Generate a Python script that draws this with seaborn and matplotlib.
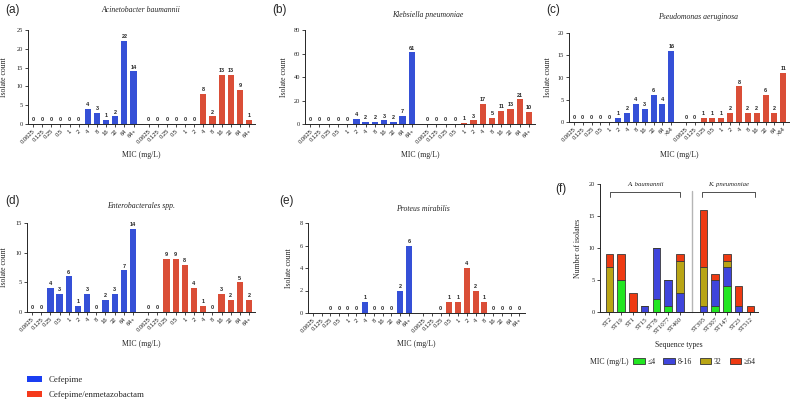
import numpy as np
import pandas as pd
import matplotlib
matplotlib.use("Agg")
import matplotlib.pyplot as plt
import seaborn as sns
from matplotlib.patches import Patch

# ---------------- data ----------------
mic_labels = ["0.0625", "0.125", "0.25", "0.5", "1", "2", "4", "8", "16", "32", "64", "64+"]
mic_labels_pa = ["0.0625", "0.125", "0.25", "0.5", "1", "2", "4", "8", "16", "32", "64", ">64"]

ab_cefepime = [0, 0, 0, 0, 0, 0, 4, 3, 1, 2, 22, 14]
ab_fep_enm = [0, 0, 0, 0, 0, 0, 8, 2, 13, 13, 9, 1]
kp_cefepime = [0, 0, 0, 0, 0, 4, 2, 2, 3, 2, 7, 61]
kp_fep_enm = [0, 0, 0, 0, 1, 3, 17, 5, 11, 13, 21, 10]
pa_cefepime = [0, 0, 0, 0, 0, 1, 2, 4, 3, 6, 4, 16]
pa_fep_enm = [0, 0, 1, 1, 1, 2, 8, 2, 2, 6, 2, 11]
en_cefepime = [0, 0, 4, 3, 6, 1, 3, 0, 2, 3, 7, 14]
en_fep_enm = [0, 0, 9, 9, 8, 4, 1, 0, 3, 2, 5, 2]
pm_cefepime = [np.nan, np.nan, 0, 0, 0, 0, 1, 0, 0, 0, 2, 6]
pm_fep_enm = [np.nan, np.nan, 0, 1, 1, 4, 2, 1, 0, 0, 0, 0]

st_labels = ["ST2", "ST19", "ST1", "ST15", "ST78", "ST1077", "ST460",
             "ST395", "ST307", "ST147", "ST23", "ST512"]
st_species = ["A. baumannii"] * 7 + ["K. pneumoniae"] * 5
mic_le4 = [0, 5, 0, 0, 2, 1, 0, 0, 1, 4, 0, 0]
mic_8_16 = [0, 0, 0, 1, 8, 4, 3, 1, 4, 3, 1, 0]
mic_32 = [7, 0, 0, 0, 0, 0, 5, 6, 0, 1, 0, 0]
mic_ge64 = [2, 4, 3, 0, 0, 0, 1, 9, 1, 1, 3, 1]
mic_classes = ["\u22644", "8-16", "32", "\u226564"]

drugs = ["Cefepime", "Cefepime/enmetazobactam"]
drug_colors = {"Cefepime": "#1a3ef2", "Cefepime/enmetazobactam": "#f53a1c"}
class_colors = {"\u22644": "#22e622", "8-16": "#3f45dc", "32": "#b9a515", "\u226564": "#ee3a12"}

# ---------------- style ----------------
sns.set_style("ticks")
plt.rcParams["font.family"] = ["Liberation Serif", "DejaVu Serif", "DejaVu Sans"]
plt.rcParams["axes.linewidth"] = 0.7
plt.rcParams["xtick.major.width"] = 0.6
plt.rcParams["ytick.major.width"] = 0.6
plt.rcParams["xtick.major.size"] = 2.0
plt.rcParams["ytick.major.size"] = 2.5
plt.rcParams["xtick.major.pad"] = 1.2
plt.rcParams["ytick.major.pad"] = 1.2

W, H = 794, 407
fig = plt.figure(figsize=(W / 100, H / 100), dpi=100)


def fx(px):
    return px / W


def fy(py):
    return 1 - py / H


def add_ax(l, t, r, b):
    return fig.add_axes([fx(l), fy(b), (r - l) / W, (b - t) / H])


GAP = 0.65
SANS = ["Liberation Sans", "DejaVu Sans"]
SERIF = ["Liberation Serif", "DejaVu Serif"]


def mic_panel(ax, cef, enm, labels, ymax, ystep, box, title, title_xy, letter, letter_xy,
              ylabel_x, xlabel_y):
    l, t, r, b = box
    n = len(labels)
    pos_c = np.arange(n, dtype=float)
    pos_e = np.arange(n, dtype=float) + n + GAP
    df = pd.DataFrame({
        "pos": np.concatenate([pos_c, pos_e]),
        "count": np.concatenate([np.asarray(cef, float), np.asarray(enm, float)]),
        "drug": [drugs[0]] * n + [drugs[1]] * n,
    }).dropna()
    sns.barplot(data=df, x="pos", y="count", hue="drug", hue_order=drugs,
                palette=drug_colors, native_scale=True, dodge=False, width=0.68,
                errorbar=None, legend=False, linewidth=0, ax=ax)
    for c in ax.containers:
        ax.bar_label(c, labels=[f"{v:.0f}" for v in c.datavalues], padding=1.3,
                     fontsize=4.0, fontweight="bold", family=SANS)
    ax.set_xlim(-0.55, 2 * n - 1 + GAP + 0.65)
    ax.set_ylim(0, ymax)
    ax.set_yticks(np.arange(0, ymax + 0.1, ystep))
    ax.tick_params(axis="y", labelsize=4.6)
    ax.set_xticks(np.concatenate([pos_c, pos_e]))
    ax.set_xticklabels(list(labels) + list(labels), rotation=45, ha="right",
                       rotation_mode="anchor", fontsize=4.2, family=SANS)
    for s in ["top", "right"]:
        ax.spines[s].set_visible(False)
    ax.set_ylabel("Isolate count", fontsize=5.6)
    ax.set_xlabel("MIC (mg/L)", fontsize=5.6)
    ax.yaxis.set_label_coords((ylabel_x - l) / (r - l), 0.5)
    ax.xaxis.set_label_coords(0.5, (b - xlabel_y) / (b - t))
    fig.text(fx(title_xy[0]), fy(title_xy[1]), title, style="italic", fontsize=5.6,
             ha="center", va="center")
    fig.text(fx(letter_xy[0]), fy(letter_xy[1]), letter, fontsize=8.5, family=SANS,
             ha="left", va="center")


ax_a = add_ax(28, 30, 255, 124)
mic_panel(ax_a, ab_cefepime, ab_fep_enm, mic_labels, 25, 5, (28, 30, 255, 124),
          "Acinetobacter baumannii", (141, 10), "(a)", (5, 10), 8, 151)
ax_b = add_ax(305, 30, 535, 124)
mic_panel(ax_b, kp_cefepime, kp_fep_enm, mic_labels, 80, 20, (305, 30, 535, 124),
          "Klebsiella pneumoniae", (428, 15), "(b)", (272, 10), 288, 151)
ax_c = add_ax(569, 33, 789, 122)
mic_panel(ax_c, pa_cefepime, pa_fep_enm, mic_labels_pa, 20, 5, (569, 33, 789, 122),
          "Pseudomonas aeruginosa", (698, 17), "(c)", (546, 10), 552, 151)
ax_d = add_ax(27, 223, 255, 312)
mic_panel(ax_d, en_cefepime, en_fep_enm, mic_labels, 15, 5, (27, 223, 255, 312),
          "Enterobacterales spp.", (141, 206), "(d)", (5, 201), 8, 340)
ax_e = add_ax(308, 223, 525, 313)
mic_panel(ax_e, pm_cefepime, pm_fep_enm, mic_labels, 8, 2, (308, 223, 525, 313),
          "Proteus mirabilis", (423, 209), "(e)", (279, 201), 293, 340)

# ---------------- panel (f) ----------------
st_pos = [i if i < 7 else i + 1 for i in range(len(st_labels))]
rows = []
for i, st in enumerate(st_labels):
    for cls, vals in zip(mic_classes, [mic_le4, mic_8_16, mic_32, mic_ge64]):
        rows.append({"pos": st_pos[i], "st": st, "mic": cls, "n": vals[i]})
df_f = pd.DataFrame(rows)

fl, ft, fr, fb = 600, 184, 758, 312
ax_f = add_ax(fl, ft, fr, fb)
sns.histplot(data=df_f, x="pos", weights="n", hue="mic",
             hue_order=mic_classes[::-1], palette=class_colors, multiple="stack",
             discrete=True, shrink=0.63, alpha=1, edgecolor="#3a3a3a", linewidth=0.6,
             legend=False, ax=ax_f)
ax_f.set_xlim(-0.8, 12.65)
ax_f.set_ylim(0, 20)
ax_f.set_yticks([0, 5, 10, 15, 20])
ax_f.tick_params(axis="y", labelsize=4.6)
ax_f.set_xticks(st_pos)
ax_f.set_xticklabels(st_labels, rotation=45, ha="right", rotation_mode="anchor",
                     fontsize=4.9)
for s in ["top", "right"]:
    ax_f.spines[s].set_visible(False)
ax_f.set_ylabel("Number of isolates", fontsize=5.6)
ax_f.set_xlabel("Sequence types", fontsize=5.6)
ax_f.yaxis.set_label_coords((582 - fl) / (fr - fl), 0.5)
ax_f.xaxis.set_label_coords(0.5, (fb - 341) / (fb - ft))
ax_f.plot([7, 7], [0, 18.9], color="#b5b5b5", lw=1.0, clip_on=False, zorder=0)
for x0, x1, name in [(0.05, 6.05, st_species[0]), (7.85, 12.4, st_species[-1])]:
    ax_f.plot([x0, x0, x1, x1], [18.0, 18.75, 18.75, 18.0], color="#333333", lw=0.6,
              clip_on=False)
    ax_f.text((x0 + x1) / 2, 19.9, name, style="italic", fontsize=4.9, ha="center",
              va="center", clip_on=False)
fig.text(fx(555), fy(189), "(f)", fontsize=8.5, family=SANS, ha="left", va="center")

# legend (f)
fig.text(fx(590), fy(362), "MIC (mg/L)", fontsize=5.6, ha="left", va="center")
f_handles = [Patch(facecolor=class_colors[c], edgecolor="#333333", linewidth=0.6)
             for c in mic_classes]
fig.legend(f_handles, mic_classes, loc="center left", bbox_to_anchor=(fx(633), fy(362)),
           ncol=4, frameon=False, fontsize=5.6, handlelength=1.5, handleheight=0.75,
           handletextpad=0.35, columnspacing=1.0, borderpad=0, borderaxespad=0)

# legend (drugs)
d_handles = [Patch(facecolor=drug_colors[d], edgecolor="none") for d in drugs]
fig.legend(d_handles, drugs, loc="upper left", bbox_to_anchor=(fx(27), fy(376)),
           frameon=False, fontsize=6.3, handlelength=1.75, handleheight=0.7,
           handletextpad=0.7, labelspacing=0.75, borderpad=0, borderaxespad=0)

fig.savefig("out.png", dpi=100)
